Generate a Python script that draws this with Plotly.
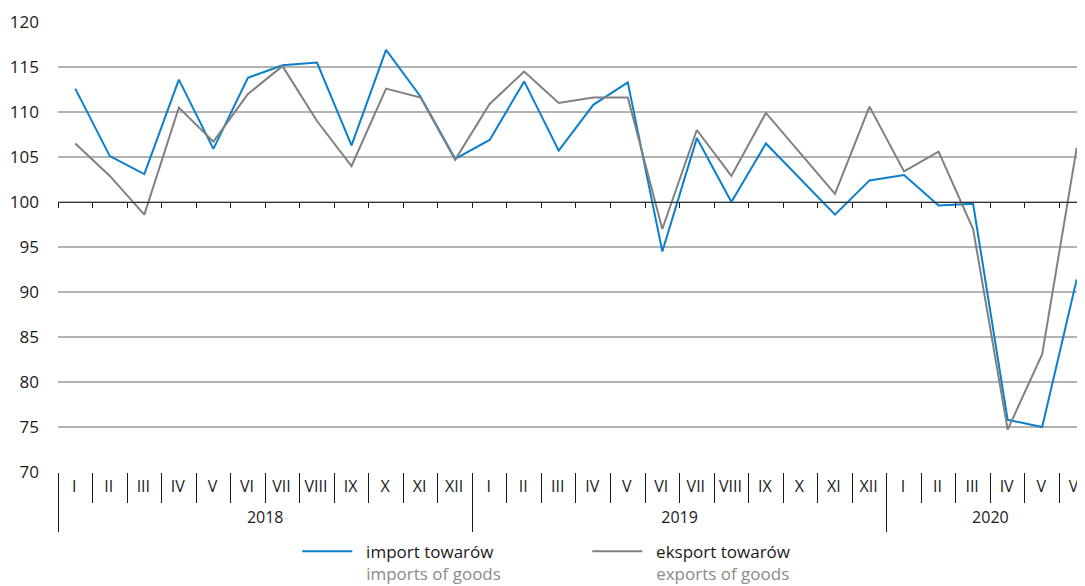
import plotly.graph_objects as go

years = ["2018"] * 12 + ["2019"] * 12 + ["2020"] * 6
months = ["I", "II", "III", "IV", "V", "VI", "VII", "VIII", "IX", "X", "XI", "XII"] * 2 + ["I", "II", "III", "IV", "V", "VI"]

imports = [112.6, 105.1, 103.1, 113.6, 105.9, 113.8, 115.2, 115.5, 106.3, 116.9, 111.7, 104.8,
           106.9, 113.4, 105.7, 110.8, 113.3, 94.5, 107.1, 100.0, 106.5, 102.5, 98.6, 102.4,
           103.0, 99.6, 99.8, 75.8, 75.0, 91.4]
exports = [106.5, 102.9, 98.6, 110.5, 106.7, 112.0, 115.1, 109.0, 104.0, 112.6, 111.6, 104.7,
           110.9, 114.5, 111.0, 111.6, 111.6, 97.0, 108.0, 102.9, 109.9, 105.4, 100.9, 110.6,
           103.4, 105.6, 97.0, 74.7, 83.1, 106.0]

font = "Open Sans"
n = len(months)
keys = [y + "-" + m for y, m in zip(years, months)]

# month boundaries, year boundaries and year centres (category index units)
month_edges = [i - 0.5 for i in range(n)]
year_list = list(dict.fromkeys(years))
year_edges = [years.index(y) - 0.5 for y in year_list]
year_mid = [(years.index(y) + n - 1 - years[::-1].index(y)) / 2 for y in year_list]

sp = "\u00a0\u00a0"
fig = go.Figure()
fig.add_trace(go.Scatter(x=keys, y=imports, mode="lines", line=dict(color="#0a7fcc", width=2),
                         name=sp + "import towarów<br>" + sp + "<span style='color:#8a8a8a'>imports of goods</span>"))
fig.add_trace(go.Scatter(x=keys, y=exports, mode="lines", line=dict(color="#808080", width=2),
                         name=sp + "eksport towarów<br>" + sp + "<span style='color:#8a8a8a'>exports of goods</span>"))
# helper traces so the overlay axes get drawn
for ax in ["x2", "x3", "x4", "x5"]:
    fig.add_trace(go.Scatter(x=list(range(n)), y=[None] * n, xaxis=ax,
                             showlegend=False, hoverinfo="skip"))

# page has an 8px body margin, so the figure is shifted by 8px;
# last month is cut at the right edge like in the original
xr = [-0.5, 29.24]
common = dict(overlaying="x", range=xr, showgrid=False, zeroline=False, automargin=False)
fig.update_layout(
    width=1077, height=578,
    margin=dict(l=50, r=0, t=14, b=114, autoexpand=False),
    plot_bgcolor="white", paper_bgcolor="white",
    font=dict(family=font, size=16, color="#1a1a1a"),
    xaxis=dict(type="category", categoryarray=keys, range=xr, automargin=False, showgrid=False,
               tickvals=keys, ticktext=months, ticks="", tickfont=dict(size=16),
               showline=False, ticklabelstandoff=3, ticklabelshift=-1),
    # axis line with small ticks at 100
    xaxis2=dict(anchor="free", position=0.6, tickvals=month_edges, ticks="outside", ticklen=5,
                tickcolor="#1a1a1a", showline=True, linecolor="#333333", linewidth=1,
                showticklabels=False, **common),
    # month separators
    xaxis3=dict(anchor="y", tickvals=month_edges, ticks="outside", ticklen=30,
                tickcolor="#1a1a1a", showline=False, showticklabels=False, **common),
    # year separators
    xaxis4=dict(anchor="y", tickvals=year_edges, ticks="outside", ticklen=59,
                tickcolor="#1a1a1a", showline=False, showticklabels=False, **common),
    # year labels
    xaxis5=dict(anchor="y", tickvals=year_mid, ticktext=year_list, ticks="",
                tickfont=dict(size=16), ticklabelstandoff=34, showline=False, **common),
    yaxis=dict(range=[70, 120], dtick=5, showgrid=True, gridcolor="#b3b3b3", gridwidth=1.5,
               zeroline=False, tickfont=dict(size=17), ticklabelstandoff=18, automargin=False),
    showlegend=True,
    legend=dict(orientation="h", x=0.233, xanchor="left", y=-0.137, yanchor="top",
                valign="top", entrywidth=225, itemwidth=50, font=dict(size=17)),
)

fig.write_html("out.html")
